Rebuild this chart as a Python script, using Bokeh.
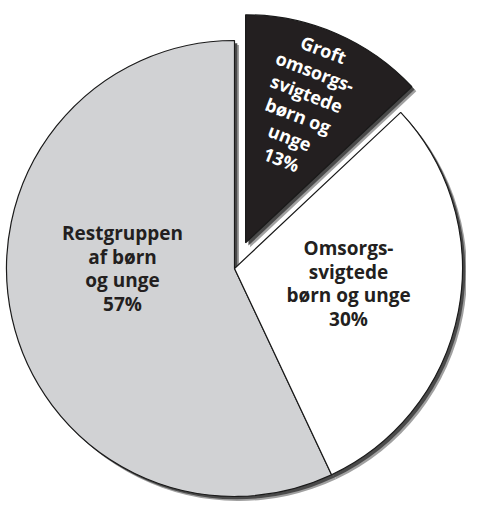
import math
import numpy as np
from bokeh.plotting import figure
from bokeh.models import Range1d, ColumnDataSource, Label
from bokeh.core.properties import value
from bokeh.embed import file_html
from bokeh.resources import INLINE

# ---- data ----
categories = ["Restgruppen af børn og unge", "Omsorgssvigtede børn og unge", "Groft omsorgssvigtede børn og unge"]
shares = [57, 30, 13]
label_lines = [
    ["Restgruppen", "af børn", "og unge"],
    ["Omsorgs-", "svigtede", "børn og unge"],
    ["Groft", "omsorgs-", "svigtede", "børn og", "unge"],
]

# ---- styles / layout ----
fills = ["#d1d2d4", "#ffffff", "#231f20"]
text_colors = ["#231f20", "#231f20", "#ffffff"]
W, H = 466, 501
cx, cy, R = 234, 233, 228
explode = [0, 0, 28]
label_pos = [(-112, 0), (114, -15), (68, 164)]
label_angle = [0, 0, math.radians(-21)]
font_sizes = ["19px", "19px", "18px"]
line_h = [23.5, 23.5, 23.5]

p = figure(width=W, height=H, output_backend="svg", toolbar_location=None,
           x_range=Range1d(0, W), y_range=Range1d(0, H), min_border=0)
p.axis.visible = False
p.grid.visible = False
p.outline_line_color = None
p.background_fill_color = "white"
p.border_fill_color = "white"

total = float(sum(shares))
start = math.pi / 2
starts, ends = [], []
for v in shares:
    a = v / total * 2 * math.pi
    starts.append(start)
    ends.append(start + a)
    start += a

xs, ys = [], []
for i in range(len(shares)):
    mid = (starts[i] + ends[i]) / 2
    xs.append(cx + explode[i] * math.cos(mid))
    ys.append(cy + explode[i] * math.sin(mid))

src = ColumnDataSource(dict(x=xs, y=ys, start=starts, end=ends, fill=fills, cat=categories, share=shares))

# drop shadows
for off, col in [(4.5, "#a0a0a0"), (2.8, "#4a4a4a")]:
    p.wedge(x=[x + off for x in xs], y=[y - off for y in ys], radius=R,
            start_angle=starts, end_angle=ends, direction="anticlock",
            fill_color=col, line_color=None)

p.wedge(x="x", y="y", radius=R, start_angle="start", end_angle="end",
        direction="anticlock", fill_color="fill", line_color="#1a1a1a",
        line_width=1.2, source=src)

# labels
for i in range(len(shares)):
    lines = label_lines[i] + [f"{shares[i]}%"]
    n = len(lines)
    th = label_angle[i]
    dvx, dvy = math.sin(th), -math.cos(th)
    bx, by = cx + label_pos[i][0], cy + label_pos[i][1]
    for k in range(n):
        o = (k - (n - 1) / 2) * line_h[i]
        p.add_layout(Label(x=bx + o * dvx, y=by + o * dvy, text=lines[k],
                           angle=th, angle_units="rad",
                           text_align="center", text_baseline="middle",
                           text_font="Open Sans", text_font_style="bold",
                           text_font_size=font_sizes[i],
                           text_color=text_colors[i]))

open("out.html", "w").write(file_html(p, INLINE))
